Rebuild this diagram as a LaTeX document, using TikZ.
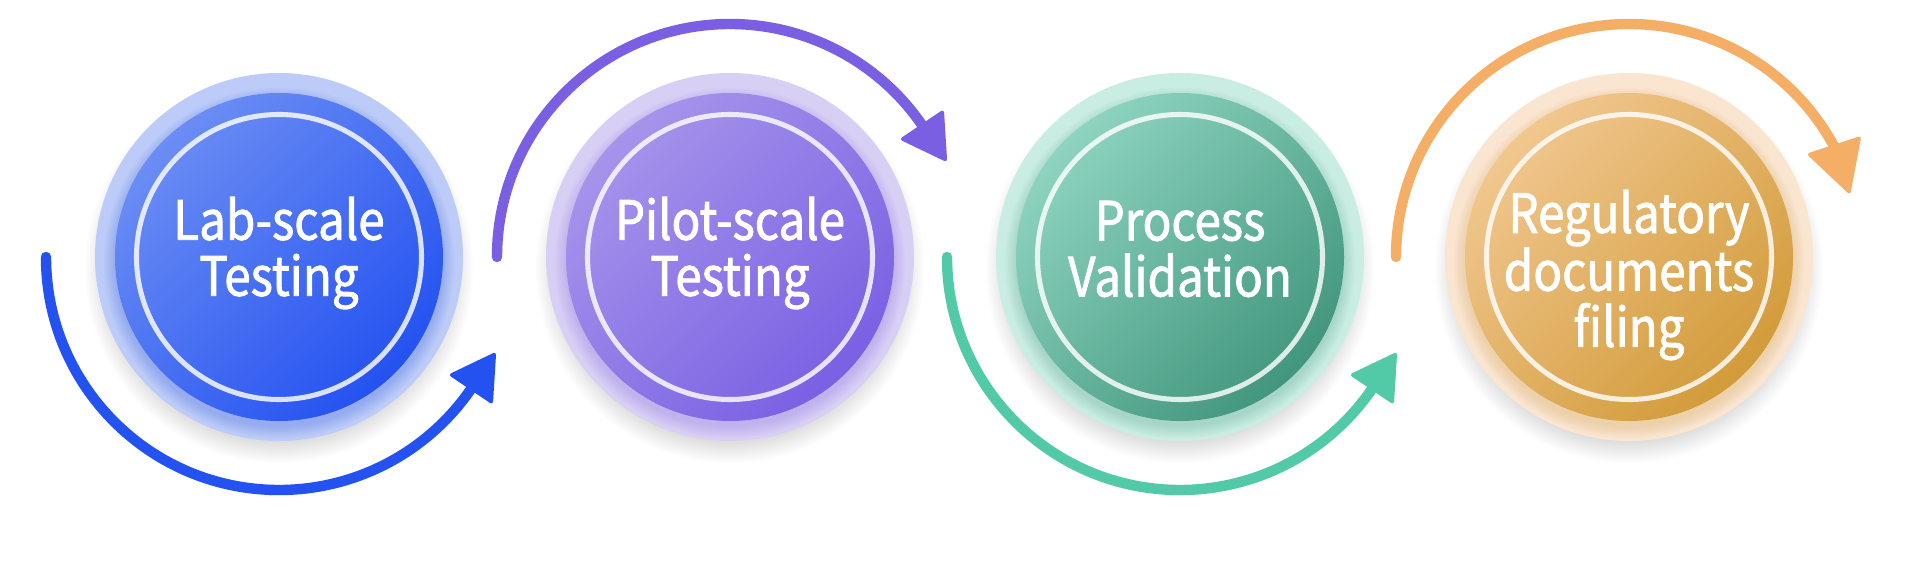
\documentclass[tikz,border=0pt]{standalone}
\usepackage{fontspec}
\setmainfont{Noto Sans CJK SC}[FakeStretch=0.88, FakeBold=1.6]
\usetikzlibrary{calc}
\definecolor{bH}{HTML}{BCCBF7}\definecolor{bL}{HTML}{6B8DF4}\definecolor{bD}{HTML}{2452F0}\definecolor{bA}{HTML}{2452F0}
\definecolor{pH}{HTML}{D8CFF5}\definecolor{pL}{HTML}{A694EB}\definecolor{pD}{HTML}{7A60E3}\definecolor{pA}{HTML}{7B5FE3}
\definecolor{gH}{HTML}{CAEDE3}\definecolor{gL}{HTML}{8ED4C0}\definecolor{gD}{HTML}{42967D}\definecolor{gA}{HTML}{52CAA8}
\definecolor{oH}{HTML}{FAE5D0}\definecolor{oL}{HTML}{F1C78F}\definecolor{oD}{HTML}{D29B3A}\definecolor{oA}{HTML}{F4AE66}
\tikzset{
  stxt/.style={text=white, align=center, inner sep=0pt, font=\fontsize{40.5}{42}\selectfont},
  arcline/.style={line width=7.8pt, line cap=round},
}
% #1 node name, #2 x centre, #3 colour prefix, #4 text, #5 text shift
\newcommand\stagecircle[5]{%
  \foreach \i in {0,...,10}{\fill[black, opacity=0.01] (#2,296) circle[radius=174+\i*2];}
  \fill[#3H] (#2,308) circle[radius=184];
  \foreach \i in {0,...,7}{\fill[#3D, opacity=0.03] (#2,302) circle[radius=164+\i*1.6];}
  \node[circle, minimum size=246pt, inner sep=0pt, top color=#3L, bottom color=#3D, shading angle=45] (#1) at (#2,308) {};
  \draw[white, opacity=0.82, line width=3.8pt] (#1) circle[radius=142.5];
  \node[stxt] (#1t) at ($(#1)+(0,#5)$) {#4};
}
% #1 coordinate, #2 angle, #3 colour, #4 length, #5 half width
\newcommand\arrowhead[5]{%
  \begin{scope}[shift={(#1)}, rotate=#2]
    \fill[#3, rounded corners=2.5pt] (-3,#5) -- (#4,0) -- (-3,-#5) -- cycle;
  \end{scope}
}
\begin{document}
\begin{tikzpicture}[x=0.75pt,y=0.75pt]
\useasboundingbox (0,0) rectangle (1920,565);
\fill[white] (0,0) rectangle (1920,565);

\stagecircle{c1}{279}{b}{Lab-scale\\Testing}{4}
\stagecircle{c2}{730}{p}{Pilot-scale\\Testing}{4}
\stagecircle{c3}{1180}{g}{Process\\Validation}{8}
\stagecircle{c4}{1629}{o}{Regulatory\\documents\\filing}{-18}

\draw[arcline, bA] ($(c1)+(180:233)$) arc[start angle=180, end angle=326, radius=233] coordinate (h1);
\arrowhead{h1}{56}{bA}{43}{27}
\draw[arcline, pA] ($(c2)+(180:233)$) arc[start angle=180, end angle=34, radius=233] coordinate (h2);
\arrowhead{h2}{-56}{pA}{43}{27}
\draw[arcline, gA] ($(c3)+(180:233)$) arc[start angle=180, end angle=326, radius=233] coordinate (h3);
\arrowhead{h3}{56}{gA}{43}{27}
\draw[arcline, oA] ($(c4)+(180:233)$) arc[start angle=180, end angle=28, radius=233] coordinate (h4);
\arrowhead{h4}{-72}{oA}{50}{29}
\end{tikzpicture}
\end{document}
